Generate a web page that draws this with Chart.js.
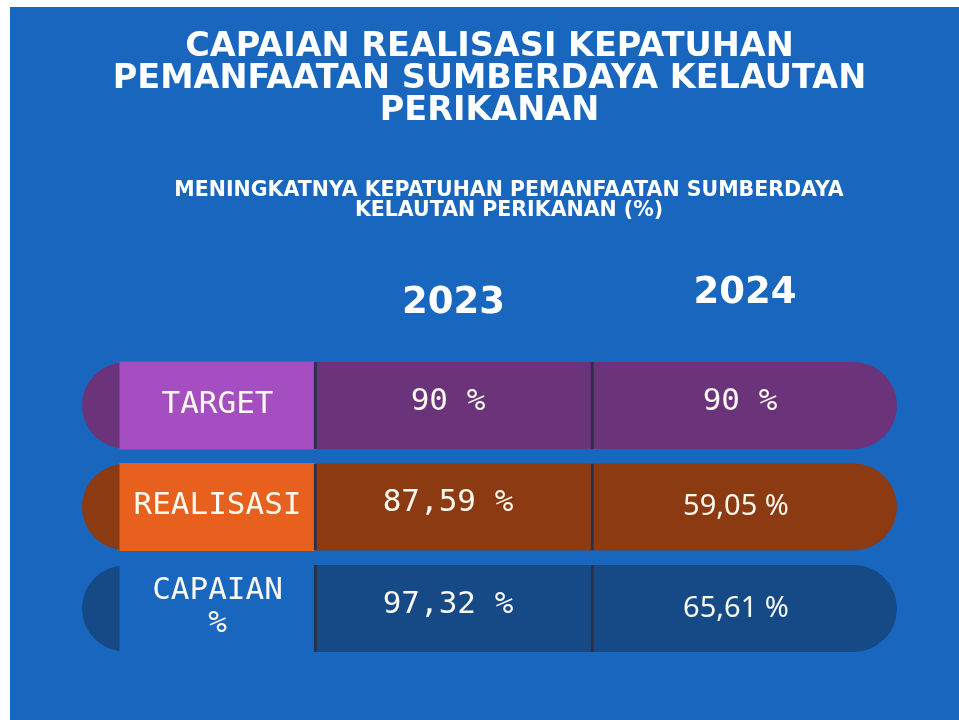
<!DOCTYPE html>
<html>
<head>
<meta charset="utf-8">
<title>Capaian Realisasi Kepatuhan</title>
<script src="https://cdn.jsdelivr.net/npm/chart.js@4.4.1/dist/chart.umd.min.js"></script>
<style>
  html, body { margin: 0; padding: 0; background: #ffffff; }
  #wrap { position: relative; width: 959px; height: 720px; }
</style>
</head>
<body>
<div id="wrap"><canvas id="kepatuhan"></canvas></div>
<script>
const categories = [['TARGET'], ['REALISASI'], ['CAPAIAN', '%']];
const years = ['2023', '2024'];
const values2023 = [90, 87.59, 97.32];
const values2024 = [90, 59.05, 65.61];

const titleLines = ['CAPAIAN REALISASI KEPATUHAN', 'PEMANFAATAN SUMBERDAYA KELAUTAN', 'PERIKANAN'];
const subtitleLines = ['MENINGKATNYA KEPATUHAN PEMANFAATAN SUMBERDAYA', 'KELAUTAN PERIKANAN (%)'];

// table columns, in x-scale units
const capCol = [0, 100];
const labelCol = [38, 233];
const col2023 = [232, 510];
const col2024 = [509, 815];

const darkColors = ['#6b3379', '#8b3a12', '#154a87'];
const lightColors = ['#a54ec1', '#e8601e', '#1966be'];
const lineColor = '#2b2f48';
const panelColor = '#1966be';
const textColor = '#fbf8f0';

function fmt(v) {
    return (Number.isInteger(v) ? String(v) : v.toFixed(2).replace('.', ',')) + ' %';
}

const panel = {
    id: 'panel',
    beforeDraw(chart) {
        const ctx = chart.ctx;
        ctx.save();
        ctx.fillStyle = panelColor;
        ctx.fillRect(10, 7, chart.width - 10, chart.height - 7);
        ctx.restore();
    }
};

const cellText = {
    id: 'cellText',
    afterDatasetsDraw(chart) {
        const {ctx, chartArea, scales: {x, y}} = chart;
        const mono = '31px "DejaVu Sans Mono"';
        ctx.save();
        ctx.textAlign = 'center';
        ctx.textBaseline = 'middle';

        // subtitle
        ctx.fillStyle = '#ffffff';
        ctx.font = 'bold 20.5px "DejaVu Sans"';
        subtitleLines.forEach((line, k) => ctx.fillText(line, 509, 191 + k * 19.5));

        // year headers
        ctx.font = 'bold 37px "DejaVu Sans"';
        ctx.fillText(years[0], x.getPixelForValue(371.5), chartArea.top - 51);
        ctx.fillText(years[1], x.getPixelForValue(663), chartArea.top - 61);

        ctx.fillStyle = textColor;
        categories.forEach((lab, i) => {
            const cy = y.getPixelForValue(i);
            ctx.font = mono;
            const lx = x.getPixelForValue((labelCol[0] + labelCol[1]) / 2);
            lab.forEach((line, k) => ctx.fillText(line, lx, cy - 1 + (k - (lab.length - 1) / 2) * 33));
            ctx.fillText(fmt(values2023[i]), x.getPixelForValue(366), cy - 4);
            if (i === 0) {
                ctx.fillText(fmt(values2024[i]), x.getPixelForValue(658), cy - 4);
            } else {
                ctx.font = '29px "Noto Sans"';
                ctx.fillText(fmt(values2024[i]), x.getPixelForValue(654), cy);
            }
        });
        ctx.restore();
    }
};

const rows = categories.map(c => c.join(' '));

const data = {
    labels: rows,
    datasets: [
        {
            label: 'cap',
            data: rows.map(() => capCol),
            backgroundColor: darkColors,
            borderRadius: {topLeft: 44, bottomLeft: 44, topRight: 0, bottomRight: 0},
            barThickness: 86,
            inflateAmount: 0,
            order: 4
        },
        {
            label: 'label',
            data: rows.map(() => labelCol),
            backgroundColor: lightColors,
            inflateAmount: 0.5,
            order: 3
        },
        {
            label: years[0],
            data: rows.map(() => col2023),
            backgroundColor: darkColors,
            borderColor: lineColor,
            borderWidth: {left: 3, top: 0, right: 0, bottom: 0},
            order: 2
        },
        {
            label: years[1],
            data: rows.map(() => col2024),
            backgroundColor: darkColors,
            borderColor: lineColor,
            borderWidth: {left: 3, top: 0, right: 0, bottom: 0},
            borderRadius: {topLeft: 0, bottomLeft: 0, topRight: 44, bottomRight: 44},
            order: 1
        }
    ]
};

const config = {
    type: 'bar',
    data: data,
    options: {
        indexAxis: 'y',
        responsive: true,
        maintainAspectRatio: false,
        animation: false,
        events: [],
        datasets: {
            bar: {
                grouped: false,
                barThickness: 87,
                borderSkipped: false
            }
        },
        layout: {
            padding: {top: 0, left: 82, right: 62, bottom: 60.75}
        },
        scales: {
            x: {type: 'linear', min: 0, max: 815, display: false},
            y: {type: 'category', display: false}
        },
        plugins: {
            legend: {display: false},
            tooltip: {enabled: false},
            title: {
                display: true,
                fullSize: false,
                text: titleLines,
                color: '#ffffff',
                font: {family: 'DejaVu Sans', size: 33.5, weight: 'bold', lineHeight: 32 / 33.5},
                padding: {top: 31.5, bottom: 227.25}
            }
        }
    },
    plugins: [panel, cellText]
};

new Chart(document.getElementById('kepatuhan'), config);
</script>
</body>
</html>
